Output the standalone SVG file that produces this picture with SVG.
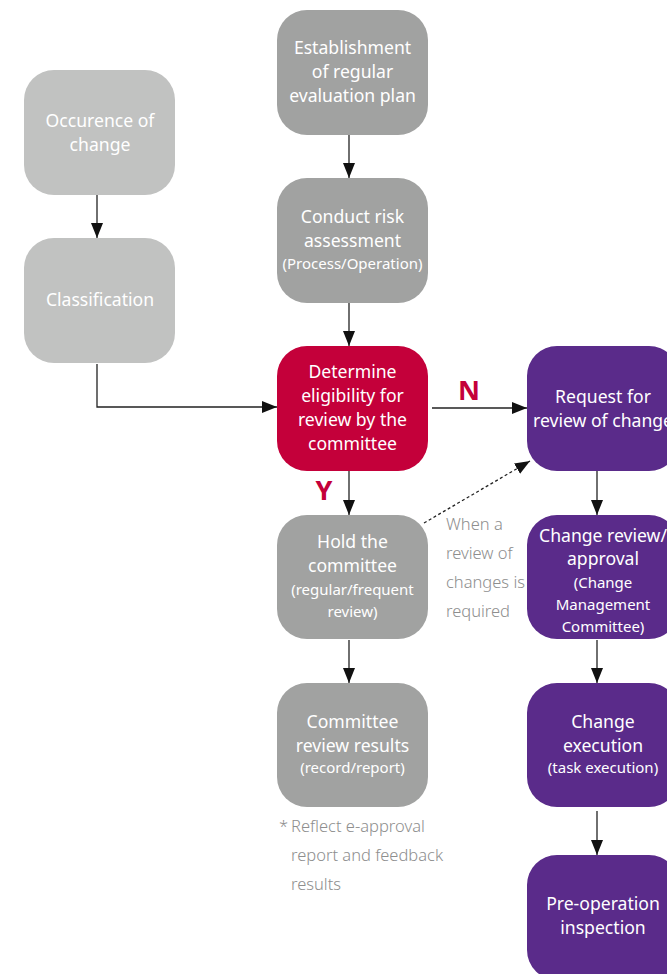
<svg xmlns="http://www.w3.org/2000/svg" width="667" height="974" viewBox="0 0 667 974">
<defs>
<style>
.lg{fill:#c1c2c1}
.md{fill:#a1a2a1}
.rd{fill:#c4003a}
.pp{fill:#5a2b8a}
.t{font-family:"Noto Sans","Open Sans",sans-serif;font-size:17.6px;fill:#ffffff;text-anchor:middle}
.s{font-family:"Noto Sans","Open Sans",sans-serif;font-size:15px;fill:#ffffff;text-anchor:middle}
.note{font-family:"Noto Sans","Open Sans",sans-serif;font-size:16.5px;font-weight:300;fill:#8e8e8e}
.yn{font-family:"Noto Sans","Liberation Sans",sans-serif;font-size:27px;font-weight:bold;fill:#c4003a;text-anchor:middle}
.ln{fill:none;stroke:#222;stroke-width:1.3}
.dt{fill:none;stroke:#222;stroke-width:1.3;stroke-dasharray:3,2.5}
</style>
<marker id="ah" markerUnits="userSpaceOnUse" markerWidth="15" markerHeight="12" refX="15" refY="6" orient="auto">
<path d="M0,0 L15,6 L0,12 z" fill="#111"/>
</marker>
</defs>
<rect width="667" height="974" fill="#ffffff"/>

<g id="connectors">
<path class="ln" d="M97,195 V238" marker-end="url(#ah)"/>
<path class="ln" d="M97,364 V407 H277" marker-end="url(#ah)"/>
<path class="ln" d="M349,135 V178" marker-end="url(#ah)"/>
<path class="ln" d="M349,303 V346" marker-end="url(#ah)"/>
<path class="ln" d="M432,408 H527" marker-end="url(#ah)"/>
<path class="ln" d="M349,471 V515" marker-end="url(#ah)"/>
<path class="ln" d="M349,640 V683" marker-end="url(#ah)"/>
<path class="ln" d="M597,471 V515" marker-end="url(#ah)"/>
<path class="ln" d="M597,640 V683" marker-end="url(#ah)"/>
<path class="ln" d="M597,811 V855" marker-end="url(#ah)"/>
<path class="dt" d="M424,523 L530,461" marker-end="url(#ah)"/>
<text class="yn" x="469" y="400">N</text>
<text class="yn" x="324" y="500">Y</text>
</g>

<g id="occurrence">
<rect class="lg" x="24" y="70" width="151" height="125" rx="30"/>
<text class="t" x="100" y="127">Occurence of</text>
<text class="t" x="100" y="151">change</text>
</g>
<g id="classification">
<rect class="lg" x="24" y="238" width="151" height="125" rx="30"/>
<text class="t" x="100" y="306">Classification</text>
</g>

<g id="establishment">
<rect class="md" x="277" y="10" width="151" height="125" rx="30"/>
<text class="t" x="352.5" y="54">Establishment</text>
<text class="t" x="352.5" y="78">of regular</text>
<text class="t" x="352.5" y="102">evaluation plan</text>
</g>
<g id="risk">
<rect class="md" x="277" y="178" width="151" height="125" rx="30"/>
<text class="t" x="352.5" y="223">Conduct risk</text>
<text class="t" x="352.5" y="247">assessment</text>
<text class="s" x="352.5" y="269">(Process/Operation)</text>
</g>
<g id="determine">
<rect class="rd" x="277" y="346" width="151" height="125" rx="30"/>
<text class="t" x="352.5" y="378">Determine</text>
<text class="t" x="352.5" y="402">eligibility for</text>
<text class="t" x="352.5" y="426">review by the</text>
<text class="t" x="352.5" y="450">committee</text>
</g>
<g id="hold">
<rect class="md" x="277" y="515" width="151" height="124" rx="30"/>
<text class="t" x="352.5" y="548">Hold the</text>
<text class="t" x="352.5" y="572">committee</text>
<text class="s" x="352.5" y="595">(regular/frequent</text>
<text class="s" x="352.5" y="617">review)</text>
</g>
<g id="results">
<rect class="md" x="277" y="683" width="151" height="124" rx="30"/>
<text class="t" x="352.5" y="728">Committee</text>
<text class="t" x="352.5" y="752">review results</text>
<text class="s" x="352.5" y="773">(record/report)</text>
</g>

<g id="request">
<rect class="pp" x="527" y="346" width="152" height="125" rx="30"/>
<text class="t" x="603" y="403">Request for</text>
<text class="t" x="603" y="427">review of change</text>
</g>
<g id="review">
<rect class="pp" x="527" y="515" width="152" height="124" rx="30"/>
<text class="t" x="603" y="542">Change review/</text>
<text class="t" x="603" y="565">approval</text>
<text class="s" x="603" y="588">(Change</text>
<text class="s" x="603" y="610">Management</text>
<text class="s" x="603" y="632">Committee)</text>
</g>
<g id="execution">
<rect class="pp" x="527" y="683" width="152" height="124" rx="30"/>
<text class="t" x="603" y="728">Change</text>
<text class="t" x="603" y="752">execution</text>
<text class="s" x="603" y="773">(task execution)</text>
</g>
<g id="preop">
<rect class="pp" x="527" y="855" width="152" height="125" rx="30"/>
<text class="t" x="603" y="910">Pre-operation</text>
<text class="t" x="603" y="934">inspection</text>
</g>

<g id="notes">
<text class="note" x="446" y="530">When a</text>
<text class="note" x="446" y="559">review of</text>
<text class="note" x="446" y="588">changes is</text>
<text class="note" x="446" y="617">required</text>
<text class="note" x="279" y="832">*</text>
<text class="note" x="291" y="832">Reflect e-approval</text>
<text class="note" x="291" y="861">report and feedback</text>
<text class="note" x="291" y="890">results</text>
</g>
</svg>
